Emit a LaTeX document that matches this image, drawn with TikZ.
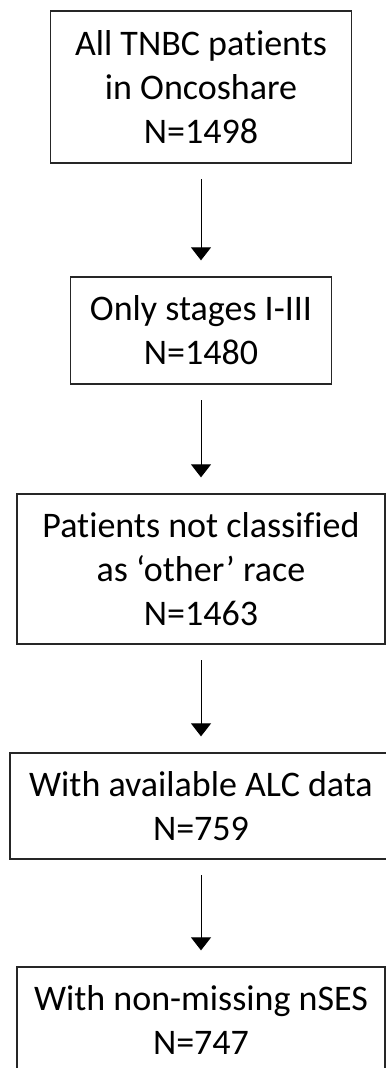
\documentclass[tikz,border=0pt]{standalone}
\usepackage{fontspec}
\setmainfont{Carlito}[Ligatures=NoCommon]
\usetikzlibrary{positioning,arrows.meta}

\begin{document}
\begin{tikzpicture}[x=0.5pt,y=-0.5pt,on grid,
  box/.style={draw=black!85,line width=0.65pt,align=center,inner sep=0pt,
    font=\fontsize{18}{22}\selectfont},
  flow/.style={-{Triangle[length=6.5pt,width=10pt]},line width=0.5pt,
    shorten <=7.75pt,shorten >=8pt}]
   \useasboundingbox (0,0) rectangle (385,1068);
   \node[box,minimum width=150.5pt,minimum height=76pt] (all) at (201,87) {All TNBC patients\\in Oncoshare\\N=1498};
   \node[box,minimum width=130.5pt,minimum height=53.5pt] (stages) [below=121.75pt of all] {Only stages I-III\\N=1480};
   \node[box,minimum width=184pt,minimum height=75pt] (race) [below=119.25pt of stages] {Patients not classified\\as ‘other’ race\\N=1463};
   \node[box,minimum width=191pt,minimum height=53pt] (alc) [below=118.5pt of race] {With available ALC data\\N=759};
   \node[box,minimum width=184pt,minimum height=53pt] (nses) [below=107pt of alc] {With non-missing nSES\\N=747};
    \path[flow]
    (all) edge (stages)
    (stages) edge (race)
    (race) edge (alc)
    (alc) edge (nses);
\end{tikzpicture}
\end{document}
